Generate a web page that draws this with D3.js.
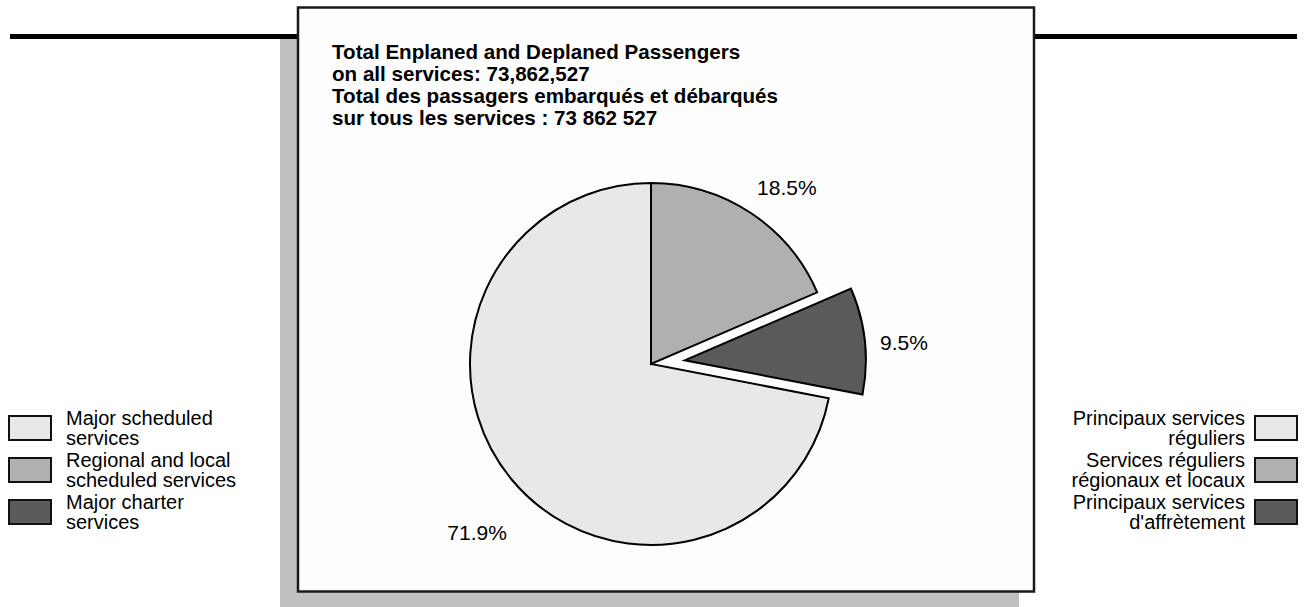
<!DOCTYPE html>
<html>
<head>
<meta charset="utf-8">
<script src="https://cdn.jsdelivr.net/npm/d3@7"></script>
<style>
  html, body { margin: 0; padding: 0; background: #ffffff; }
  svg { display: block; font-family: "Liberation Sans", Arial, sans-serif; }
</style>
</head>
<body>
<svg id="chart" width="1305" height="607"></svg>
<script>
// ---- Data ----
const categoriesEn = [["Major scheduled", "services"], ["Regional and local", "scheduled services"], ["Major charter", "services"]];
const categoriesFr = [["Principaux services", "réguliers"], ["Services réguliers", "régionaux et locaux"], ["Principaux services", "d'affrètement"]];
const shares = [71.9, 18.5, 9.5];
const exploded = [false, false, true];
const titleLines = [
  "Total Enplaned and Deplaned Passengers",
  "on all services: 73,862,527",
  "Total des passagers embarqués et débarqués",
  "sur tous les services : 73 862 527"
];

// ---- Layout / styles ----
const fills = ["#e8e8e8", "#b0b0b0", "#5a5a5a"];
const labelRadius = [242, 223, 220];        // px from slice centre
const labelAngleNudge = [-4.5, 4.2, 1.5];   // degrees

const svg = d3.select("#chart");

// shadow
svg.append("rect").attr("x", 280).attr("y", 39).attr("width", 739).attr("height", 580).attr("fill", "#c0c0c0");
// top rule
svg.append("line").attr("x1", 10).attr("x2", 1297).attr("y1", 36.5).attr("y2", 36.5)
  .attr("stroke", "#000").attr("stroke-width", 5);
// panel
svg.append("rect").attr("x", 298).attr("y", 7.5).attr("width", 736).attr("height", 584)
  .attr("fill", "#fdfdfd").attr("stroke", "#1a1a1a").attr("stroke-width", 2.5);

// title
const title = svg.append("text").attr("font-size", 20.6).attr("font-weight", "bold").attr("fill", "#000");
titleLines.forEach((t, i) => {
  title.append("tspan").attr("x", 332).attr("y", 52 + i * 22).attr("dy", "0.35em").text(t);
});

// pie
const cx = 651, cy = 364, r = 181, explode = 34;
const total = d3.sum(shares);
const start = (shares[1] + shares[2]) / total * 2 * Math.PI;
const pie = d3.pie().sort(null).value(d => d).startAngle(start).endAngle(start + 2 * Math.PI);
const arcs = pie(shares);
const arc = d3.arc().innerRadius(0).outerRadius(r);

const g = svg.append("g").attr("transform", `translate(${cx},${cy})`);
arcs.forEach((a, i) => {
  const mid = (a.startAngle + a.endAngle) / 2;
  const dx = exploded[i] ? explode * Math.sin(mid) : 0;
  const dy = exploded[i] ? -explode * Math.cos(mid) : 0;
  g.append("path").attr("d", arc(a)).attr("transform", `translate(${dx},${dy})`)
    .attr("fill", fills[i]).attr("stroke", "#000").attr("stroke-width", 2).attr("stroke-linejoin", "miter");
  const la = mid + labelAngleNudge[i] * Math.PI / 180;
  const lx = dx + labelRadius[i] * Math.sin(la);
  const ly = dy - labelRadius[i] * Math.cos(la);
  g.append("text").attr("x", lx).attr("y", ly).attr("dy", "0.35em")
    .attr("text-anchor", "middle").attr("font-size", 21).attr("fill", "#000")
    .text(d3.format(".1f")(shares[i]) + "%");
});

// legends
const legY = d3.scaleBand().domain(d3.range(shares.length)).range([407, 533]);
const lineH = 20, fs = 20;
const bw = 42, bh = 24;
categoriesEn.forEach((lines, i) => {
  const y0 = legY(i) + legY.bandwidth() / 2;
  svg.append("rect").attr("x", 9).attr("y", y0 - bh / 2).attr("width", bw).attr("height", bh)
    .attr("fill", fills[i]).attr("stroke", "#111").attr("stroke-width", 2);
  const t = svg.append("text").attr("font-size", fs).attr("fill", "#000");
  lines.forEach((l, j) => t.append("tspan").attr("x", 66).attr("y", y0 - lineH / 2 + j * lineH).attr("dy", "0.35em").text(l));
});
categoriesFr.forEach((lines, i) => {
  const y0 = legY(i) + legY.bandwidth() / 2;
  svg.append("rect").attr("x", 1255).attr("y", y0 - bh / 2).attr("width", bw).attr("height", bh)
    .attr("fill", fills[i]).attr("stroke", "#111").attr("stroke-width", 2);
  const t = svg.append("text").attr("text-anchor", "end").attr("font-size", fs).attr("fill", "#000");
  lines.forEach((l, j) => t.append("tspan").attr("x", 1245).attr("y", y0 - lineH / 2 + j * lineH).attr("dy", "0.35em").text(l));
});
</script>
</body>
</html>
